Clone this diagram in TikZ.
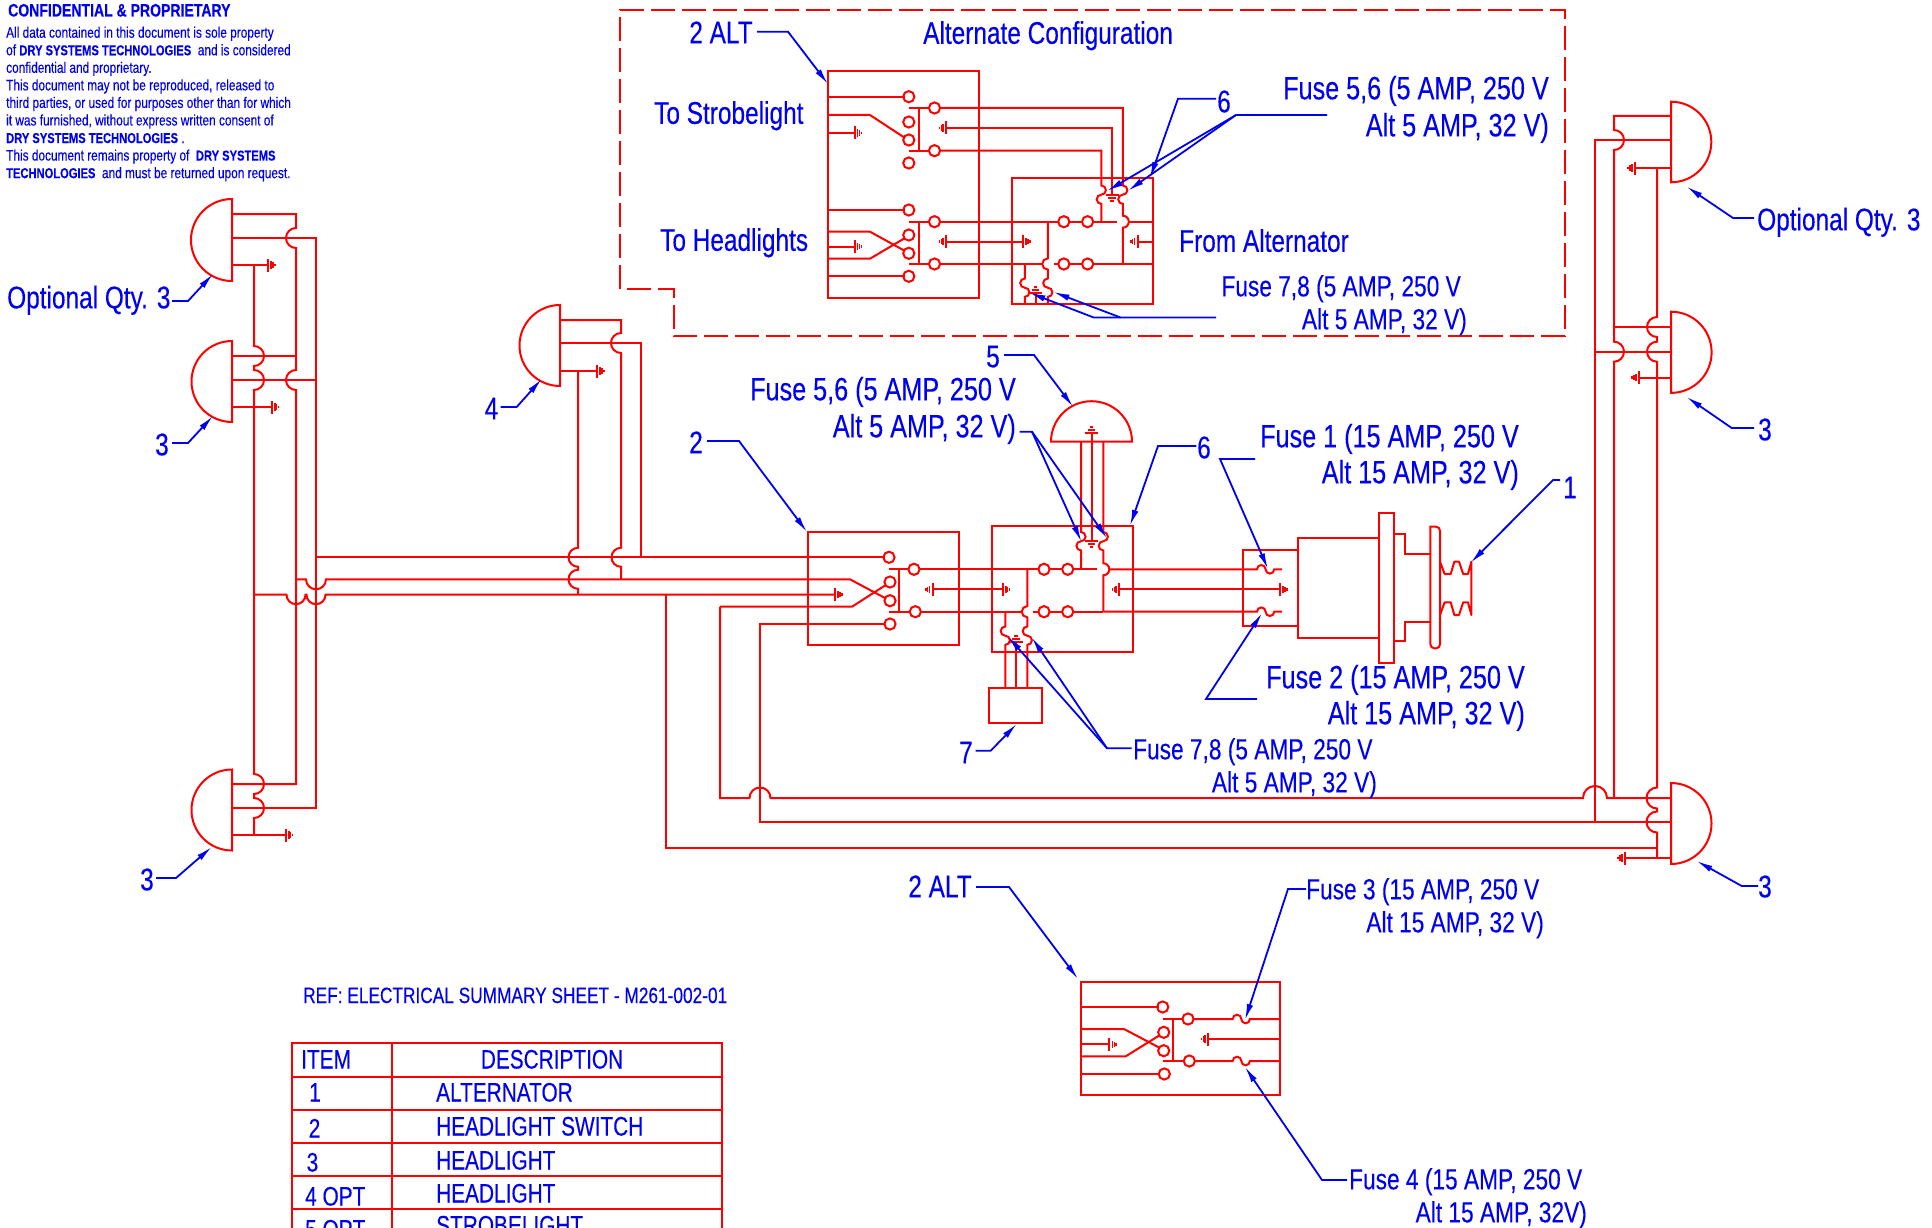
\documentclass[tikz,border=0pt]{standalone}
\usepackage{fontspec}
\setmainfont[FakeStretch=0.78,FakeBold=0.25]{Liberation Sans}
\usetikzlibrary{arrows.meta}
\definecolor{wr}{RGB}{255,0,0}
\definecolor{lb}{RGB}{0,0,240}
\tikzset{
  wire/.style={draw=wr,line width=2pt,line join=miter},
  dashbox/.style={draw=wr,line width=2pt,dash pattern=on 24pt off 7pt},
  leader/.style={draw=lb,line width=1.8pt,-{Latex[length=16pt,width=6.5pt]}},
  big/.style={text=lb,inner sep=0pt,font=\fontsize{31.3}{36}\selectfont,yshift=-11.3pt},
  fus/.style={text=lb,inner sep=0pt,font=\fontsize{32.3}{36}\selectfont,yshift=-11.3pt},
  medl/.style={text=lb,inner sep=0pt,font=\fontsize{29.1}{34}\selectfont,yshift=-10.3pt},
  tbl/.style={text=lb,inner sep=0pt,font=\fontsize{26.7}{32}\selectfont,yshift=-9.5pt},
}
\newcommand\bd[1]{{\bfseries\fontsize{14.3}{17.55}\selectfont #1}}
% path fragments: bumps on a wire, x, y centre, radius
\newcommand\vR[3]{-- (#1,{#2-#3}) arc[start angle=90,end angle=-90,radius=#3pt]}
\newcommand\vL[3]{-- (#1,{#2-#3}) arc[start angle=90,end angle=270,radius=#3pt]}
\newcommand\hU[3]{-- ({#1-#3},#2) arc[start angle=180,end angle=0,radius=#3pt]}
\newcommand\hD[3]{-- ({#1-#3},#2) arc[start angle=180,end angle=360,radius=#3pt]}
\newcommand\fuseH[2]{-- (#1,#2) arc[start angle=180,end angle=0,radius=4.3pt] arc[start angle=180,end angle=360,radius=4.3pt]}
\newcommand\fuseV[2]{-- (#1,#2) arc[start angle=90,end angle=-90,radius=4.6pt] arc[start angle=90,end angle=270,radius=4.6pt]}
\newcommand\fuseW[2]{-- (#1,#2) arc[start angle=90,end angle=270,radius=4.6pt] arc[start angle=90,end angle=-90,radius=4.6pt]}
% symbols
\newcommand\gndR[2]{\draw[wire] (#1,{#2-6.5}) -- (#1,{#2+6.5});
  \draw[wr,line width=1.5pt] ({#1+3.2},{#2-3.6}) -- ({#1+3.2},{#2+3.6}) ({#1+5},{#2-2.6}) -- ({#1+5},{#2+2.6}) ({#1+6.8},{#2-1.3}) -- ({#1+6.8},{#2+1.3});}
\newcommand\gndL[2]{\draw[wire] (#1,{#2-6.5}) -- (#1,{#2+6.5});
  \draw[wr,line width=1.5pt] ({#1-3.2},{#2-3.6}) -- ({#1-3.2},{#2+3.6}) ({#1-5},{#2-2.6}) -- ({#1-5},{#2+2.6}) ({#1-6.8},{#2-1.3}) -- ({#1-6.8},{#2+1.3});}
\newcommand\gndD[2]{\draw[wire] ({#1-6.5},#2) -- ({#1+6.5},#2);
  \draw[wr,line width=1.5pt] ({#1-3.6},{#2+3.2}) -- ({#1+3.6},{#2+3.2}) ({#1-1.6},{#2+6}) -- ({#1+1.6},{#2+6});}
\newcommand\gndU[2]{\draw[wire] ({#1-6.5},#2) -- ({#1+6.5},#2);
  \draw[wr,line width=1.5pt] ({#1-3.6},{#2-3.2}) -- ({#1+3.6},{#2-3.2}) ({#1-1.6},{#2-6}) -- ({#1+1.6},{#2-6});}
\newcommand\term[2]{\draw[wire] (#1,#2) circle[radius=5.6pt];}
\newcommand\lampL[3]{\draw[wire] (#1,{#2-#3}) arc[start angle=90,end angle=270,radius=#3pt] -- cycle;}
\newcommand\lampR[3]{\draw[wire] (#1,{#2-#3}) arc[start angle=90,end angle=-90,radius=#3pt] -- cycle;}
\newcommand\leadline[3]{\coordinate (ls) at (#1); \coordinate (le) at (#2); \coordinate (lt) at (#3); \draw[leader] (ls) -- (le) -- (lt);}
\newcommand\leadtip[1]{\coordinate (lu) at (#1); \draw[leader] (le) -- (lu);}
\begin{document}
\begin{tikzpicture}[x=1pt,y=-1pt]
\useasboundingbox (0,0) rectangle (1932,1228);
\clip (0,0) rectangle (1932,1228);

% ---------- confidentiality text
\node[text=lb,inner sep=0pt,anchor=base west,font=\bfseries\fontsize{18}{20}\selectfont] (conf) at (8,16.5) {CONFIDENTIAL \& PROPRIETARY};
\node[text=lb,inner sep=0pt,anchor=north west,align=left,font=\fontsize{15.2}{17.55}\selectfont] (conftext) at (6,26.5) {All data contained in this document is sole property\\
of \bd{DRY SYSTEMS TECHNOLOGIES}\ \ and is considered\\
confidential and proprietary.\\
This document may not be reproduced, released to\\
third parties, or used for purposes other than for which\\
it was furnished, without express written consent of\\
\bd{DRY SYSTEMS TECHNOLOGIES} .\\
This document remains property of \ \bd{DRY SYSTEMS}\\
\bd{TECHNOLOGIES}\ \ and must be returned upon request.};

% ---------- alternate configuration frame
\draw[dashbox] (620,289) -- (620,10) -- (1565,10) -- (1565,336) -- (673.5,336) -- (673.5,289) -- cycle;

% alt switch
\draw[wire] (827.7,71) rectangle (979,297.7);
\foreach \y in {96.7,122,140,163,210,235,253.3,276.3} {\term{908.8}{\y}}
\foreach \y in {108,150.7,221.7,264} {\term{934.5}{\y}}
\draw[wire] (827.7,96.7) -- (905,96.7);
\draw[wire] (827.7,115) -- (870,115) -- (905,138);
\draw[wire] (827.7,133) -- (854.5,133); \gndR{854.5}{133}
\draw[wire] (909,108) -- (929,108) (919,108) -- (919,150.7) (909,150.7) -- (929,150.7);
\draw[wire] (940,108) -- (1122.8,108) \fuseV{1122.8}{185.5} \vR{1122.8}{221.7}{6} -- (1122.8,264);
\draw[wire] (946.3,128) -- (1112,128) -- (1112,195); \gndL{946.3}{128} \gndD{1112}{195}
\draw[wire] (940,150.7) -- (1101.3,150.7) \fuseV{1101.3}{185.5} -- (1101.3,221.7);
\draw[wire] (827.7,210) -- (905,210);
\draw[wire] (827.7,231.7) -- (870,231.7) -- (905,251);
\draw[wire] (827.7,258.7) -- (870,258.7) -- (905,238);
\draw[wire] (827.7,246.7) -- (854.5,246.7); \gndR{854.5}{246.7}
\draw[wire] (827.7,276.3) -- (905,276.3);
\draw[wire] (909,221.7) -- (929,221.7) (919,221.7) -- (919,264) (909,264) -- (929,264);
% alt fuse box
\draw[wire] (1011.8,178) rectangle (1153.4,304.3);
\term{1063.8}{221.7} \term{1087.6}{221.7} \term{1063.8}{264} \term{1087.6}{264}
\draw[wire] (940,221.7) -- (1058.2,221.7) (1069.4,221.7) -- (1082,221.7) (1093.2,221.7) -- (1116.8,221.7) (1128.8,221.7) -- (1153.4,221.7);
\draw[wire] (940,264) -- (1042,264) (1053.6,264) -- (1058.2,264) (1069.4,264) -- (1082,264) (1093.2,264) -- (1153.4,264);
\draw[wire] (946.3,241.7) -- (1023,241.7); \gndL{946.3}{241.7} \gndR{1023}{241.7}
\draw[wire] (1153.4,241.7) -- (1137.7,241.7); \gndL{1137.7}{241.7}
\draw[wire] (1047.8,221.7) \vL{1047.8}{264}{5.6} \fuseW{1047.8}{278.5} -- (1047.8,304.3);
\draw[wire] (1024.8,264) \fuseW{1024.8}{278.5} -- (1024.8,304.3);
\draw[wire] (1035.5,304.3) -- (1035.5,293); \gndU{1035.5}{293}

% ---------- left lamps
\lampL{232}{240}{41} \lampL{232}{381.5}{40.5} \lampL{232}{810}{40.5}
\draw[wire] (232,214) -- (296,214) \vL{296}{238}{10} -- (296,356) \vL{296}{380}{10} -- (296,784) -- (232,784);
\draw[wire] (296,356) -- (232,356);
\draw[wire] (232,238) -- (316,238) -- (316,808) -- (232,808);
\draw[wire] (232,380) -- (316,380);
\draw[wire] (232,265) -- (268,265); \gndR{268}{265}
\draw[wire] (254,265) \vR{254}{356}{10} \vR{254}{380}{10} \vR{254}{784}{10} \vR{254}{808}{10} -- (254,835);
\draw[wire] (232,407) -- (271.7,407); \gndR{271.7}{407}
\draw[wire] (232,835) -- (285.7,835); \gndR{285.7}{835}

% ---------- lamp 4
\lampL{560}{345.5}{40.5}
\draw[wire] (560,320) -- (621,320) \vL{621}{343}{10} \vL{621}{557.3}{9.5} -- (621,579.3);
\draw[wire] (560,343) -- (641,343) -- (641,557.3);
\draw[wire] (560,371) -- (597,371); \gndR{597}{371}
\draw[wire] (578,371) \vL{578}{557.3}{9.5} \vL{578}{579.3}{9.5} -- (578,594.7);

% ---------- main harness
\draw[wire] (316,557.3) -- (885,557.3);
\draw[wire] (296,579.3) \hD{316}{579.3}{10} -- (850,579.3) -- (885,598);
\draw[wire] (254,594.7) \hD{296}{594.7}{9.5} \hD{316}{594.7}{9.5} -- (835,594.7); \gndR{835}{594.7}
\draw[wire] (666,594.7) -- (666,848) -- (1657,848);
\draw[wire] (720,606.7) -- (852,606.7) -- (885,585.5);
\draw[wire] (720,606.7) -- (720,798) \hU{760}{798}{10.5} \hU{1595}{798}{12} -- (1671,798);
\draw[wire] (885,624) -- (760,624) -- (760,822) -- (1671,822);

% ---------- main switch
\draw[wire] (808,532) rectangle (959,645);
\term{889}{557.3} \term{890}{582} \term{890}{600.7} \term{890}{624}
\draw[wire] (889,569.3) -- (909,569.3) (899.3,569.3) -- (899.3,611.7) (889,611.7) -- (910,611.7);
\term{914}{569.3} \term{915.3}{611.7}

% ---------- main fuse box
\draw[wire] (991.7,526) rectangle (1133.3,652.3);
\term{1044}{569.3} \term{1067.7}{569.3} \term{1044}{611.7} \term{1067.7}{611.7}
\draw[wire] (919.6,569.3) -- (1038.4,569.3) (1049.6,569.3) -- (1062.1,569.3) (1073.3,569.3) -- (1097.3,569.3);
\draw[wire] (921,611.7) -- (1021.7,611.7) (1032.9,611.7) -- (1038.4,611.7) (1049.6,611.7) -- (1062.1,611.7) (1073.3,611.7) -- (1103.3,611.7);
\draw[wire] (1103.3,611.7) -- (1257,611.7) \fuseH{1257}{611.7} -- (1282,611.7);
\draw[wire] (1109.3,569.3) -- (1257,569.3) \fuseH{1257}{569.3} -- (1282,569.3);
\draw[wire] (932.7,589.3) -- (1002.7,589.3); \gndL{932.7}{589.3} \gndR{1002.7}{589.3}
\draw[wire] (1119.3,589.3) -- (1280,589.3); \gndL{1119.3}{589.3} \gndR{1280}{589.3}
\draw[wire] (1027.3,569.3) \vL{1027.3}{611.7}{5.6} \fuseW{1027.3}{626.5} -- (1027.3,688.3);
\draw[wire] (1005.3,611.7) \fuseW{1005.3}{626.5} -- (1005.3,688.3);
\draw[wire] (1016,688.3) -- (1016,642); \gndU{1016}{642}
\draw[wire] (989.3,688.3) rectangle (1042,723.3);
\draw[wire] (1081,441.7) \fuseV{1081}{532} -- (1081,569.3);
\draw[wire] (1103.3,441.7) \fuseV{1103.3}{532} \vR{1103.3}{569.3}{6} -- (1103.3,611.7);
\draw[wire] (1091.7,433) -- (1091.7,541); \gndU{1091.7}{433} \gndD{1091.7}{541}
\draw[wire] (1051,441.7) arc[start angle=180,end angle=0,radius=40.5pt] -- cycle;

% ---------- alternator
\draw[wire] (1298,550) -- (1243,550) -- (1243,625.7) -- (1298,625.7);
\draw[wire] (1298,538.3) rectangle (1378.6,637.7);
\draw[wire] (1378.6,512.7) rectangle (1394.3,663.3);
\draw[wire] (1394.3,534.3) -- (1405.4,534.3) -- (1405.4,554) -- (1430.4,554);
\draw[wire] (1394.3,641) -- (1405.4,641) -- (1405.4,621.7) -- (1430.4,621.7);
\draw[wire] (1430.4,526.7) [rounded corners=4pt] -- (1440,526.7) -- (1440,648.3) -- (1430.4,648.3) [sharp corners] -- cycle;
\draw[wire,line join=round] (1440,561.7) -- (1444.6,574) -- (1450.7,574) -- (1454.3,561.7) -- (1459,561.7) -- (1463.2,574) -- (1467.9,574) -- (1471.4,561.7) -- (1471.4,615) -- (1467.9,602.3) -- (1463.2,602.3) -- (1459,615) -- (1454.3,615) -- (1450.7,602.3) -- (1444.6,602.3) -- (1440,615);

% ---------- right lamps
\lampR{1671}{142}{40.3} \lampR{1671}{352.3}{40.6} \lampR{1671}{823.5}{40.5}
\draw[wire] (1671,116) -- (1614,116) \vR{1614}{140}{10} \vR{1614}{351.7}{10} -- (1614,798);
\draw[wire] (1671,140) -- (1595,140) -- (1595,822);
\draw[wire] (1671,168) -- (1635,168); \gndL{1635}{168}
\draw[wire] (1657,168) \vL{1657}{327}{10} \vL{1657}{351.7}{10} \vL{1657}{798}{10.5} \vL{1657}{822}{10.5} -- (1657,858);
\draw[wire] (1614,327) -- (1671,327);
\draw[wire] (1595,351.7) -- (1671,351.7);
\draw[wire] (1671,377.7) -- (1639,377.7); \gndL{1639}{377.7}
\draw[wire] (1671,858) -- (1625,858); \gndL{1625}{858}

% ---------- bottom alt switch
\draw[wire] (1081.3,982.3) rectangle (1280,1095);
\term{1162.7}{1007} \term{1163.7}{1032.3} \term{1163.7}{1050.7} \term{1164.3}{1074}
\term{1188}{1019} \term{1189.3}{1061}
\draw[wire] (1081.3,1007) -- (1159,1007);
\draw[wire] (1081.3,1029) -- (1124,1029) -- (1160,1048);
\draw[wire] (1081.3,1056.3) -- (1125.7,1056.3) -- (1160,1035);
\draw[wire] (1081.3,1044.3) -- (1109.3,1044.3); \gndR{1109.3}{1044.3}
\draw[wire] (1081.3,1074) -- (1160,1074);
\draw[wire] (1162.7,1019) -- (1182.4,1019) (1173.3,1019) -- (1173.3,1061) (1162.7,1061) -- (1183.7,1061);
\draw[wire] (1193.6,1019) \fuseH{1232.7}{1019} -- (1280,1019);
\draw[wire] (1194.9,1061) \fuseH{1232.7}{1061} -- (1280,1061);
\draw[wire] (1280,1039) -- (1208.3,1039); \gndL{1208.3}{1039}

% ---------- parts table
\draw[wire] (291.7,1043.3) rectangle (721.7,1240);
\draw[wire] (392,1043.3) -- (392,1240);
\foreach \y in {1076.7,1109.7,1142.7,1175.7,1208.7} {\draw[wire] (291.7,\y) -- (721.7,\y);}
\node[tbl,anchor=base west] (thitem) at (301,1059) {ITEM};
\node[tbl,anchor=base] (thdesc) at (552,1059) {DESCRIPTION};
\node[tbl,anchor=base] (i1) at (315,1092) {1};
\node[tbl,anchor=base] (i2) at (314.5,1128) {2};
\node[tbl,anchor=base] (i3) at (312.5,1162) {3};
\node[tbl,anchor=base west] (i4) at (305,1196) {4 OPT};
\node[tbl,anchor=base west] (i5) at (305,1229) {5 OPT};
\node[tbl,anchor=base west] (d1) at (436,1092) {ALTERNATOR};
\node[tbl,anchor=base west] (d2) at (436,1126) {HEADLIGHT SWITCH};
\node[tbl,anchor=base west] (d3) at (436,1160) {HEADLIGHT};
\node[tbl,anchor=base west] (d4) at (436,1193) {HEADLIGHT};
\node[tbl,anchor=base west] (d5) at (436,1225) {STROBELIGHT};
\node[text=lb,inner sep=0pt,anchor=base west,font=\fontsize{22.15}{26}\selectfont] (refs) at (303,1003) {REF: ELECTRICAL SUMMARY SHEET - M261-002-01};

% ---------- labels
\node[big,anchor=base] (l2alta) at (721,32) {2 ALT};
\node[big,anchor=base west] (lalt) at (923,32.5) {Alternate Configuration};
\node[big,anchor=base west] (lstrobe) at (654,112.5) {To Strobelight};
\node[big,anchor=base west] (lhead) at (660,239.5) {To Headlights};
\node[big,anchor=base west] (lfrom) at (1179,240.5) {From Alternator};
\node[big,anchor=base] (l6a) at (1224,101) {6};
\node[fus,anchor=base east] (lf56a) at (1549,88) {Fuse 5,6 (5 AMP, 250 V};
\node[fus,anchor=base east] (lf56b) at (1549,125) {Alt 5 AMP, 32 V)};
\node[medl,anchor=base east] (lf78a) at (1461,286) {Fuse 7,8 (5 AMP, 250 V};
\node[medl,anchor=base east] (lf78b) at (1467,319) {Alt 5 AMP, 32 V)};
\node[big,anchor=base west] (lopt1) at (1757,219) {Optional Qty. 3};
\node[big,anchor=base] (lr3a) at (1765,429) {3};
\node[big,anchor=base] (lr3b) at (1765,886) {3};
\node[big,anchor=base west] (lopt2) at (7,297) {Optional Qty. 3};
\node[big,anchor=base] (ll3a) at (162,444) {3};
\node[big,anchor=base] (ll3b) at (147,879) {3};
\node[big,anchor=base] (l4) at (491.5,408) {4};
\node[big,anchor=base] (l2) at (696,442) {2};
\node[big,anchor=base] (l5) at (993,356) {5};
\node[fus,anchor=base east] (lf56c) at (1016,389) {Fuse 5,6 (5 AMP, 250 V};
\node[fus,anchor=base east] (lf56d) at (1016,426) {Alt 5 AMP, 32 V)};
\node[big,anchor=base] (l6b) at (1204,447) {6};
\node[fus,anchor=base east] (lf1a) at (1519,436) {Fuse 1 (15 AMP, 250 V};
\node[fus,anchor=base east] (lf1b) at (1519,472) {Alt 15 AMP, 32 V)};
\node[fus,anchor=base east] (lf2a) at (1525,677) {Fuse 2 (15 AMP, 250 V};
\node[fus,anchor=base east] (lf2b) at (1525,713) {Alt 15 AMP, 32 V)};
\node[big,anchor=base] (l1) at (1570,487) {1};
\node[big,anchor=base] (l7) at (966,752) {7};
\node[medl,anchor=base west] (lf78c) at (1133,749) {Fuse 7,8 (5 AMP, 250 V};
\node[medl,anchor=base east] (lf78d) at (1377,782) {Alt 5 AMP, 32 V)};
\node[big,anchor=base] (l2altb) at (940,886) {2 ALT};
\node[medl,anchor=base west] (lf3a) at (1306,889) {Fuse 3 (15 AMP, 250 V};
\node[medl,anchor=base east] (lf3b) at (1544,922) {Alt 15 AMP, 32 V)};
\node[medl,anchor=base west] (lf4a) at (1349,1179) {Fuse 4 (15 AMP, 250 V};
\node[medl,anchor=base east] (lf4b) at (1587,1212) {Alt 15 AMP, 32V)};

% ---------- leaders
\leadline{757,31.7}{788,31.7}{828,84}
\leadline{1216,98.7}{1178,98.7}{1150,178}
\leadline{1327,115}{1236,115}{1107,191} \leadtip{1128,190.7}
\leadline{1216,317.5}{1120.5,317.5}{1053.5,292}
\leadline{1120.5,317.5}{1093.7,317.5}{1029.4,292.7}
\leadline{1754,218}{1733,218}{1686.7,186.7}
\leadline{1754,428}{1731.7,428}{1686.7,397}
\leadline{1758,886}{1741.7,886}{1696.7,861}
\leadline{172,301}{188,301}{213,274}
\leadline{172,443}{188,443}{213,416}
\leadline{156,878}{176,878}{211.7,847}
\leadline{500.7,407}{516.7,407}{541.7,379}
\leadline{707,441}{739,441}{807,532}
\leadline{1004,355}{1034,355}{1073,406.7}
\leadline{1019.6,431.7}{1032,431.7}{1081.4,541.7} \leadtip{1107,538.3}
\leadline{1196.4,446}{1158,446}{1130,525.7}
\leadline{1255,459}{1220,459}{1268,569}
\leadline{1257,699}{1206,699}{1262,613}
\leadline{1560,480}{1553,480}{1470.7,562.7}
\leadline{975.7,750.7}{990.7,750.7}{1016.7,724}
\leadline{1131.7,748.3}{1107,748.3}{1008,636.7}
\leadtip{1031.7,637.3}
\leadline{976,887}{1009,887}{1078,979}
\leadline{1306,889}{1288,889}{1245,1020}
\leadline{1347,1180}{1322,1180}{1245,1067}
\end{tikzpicture}
\end{document}
